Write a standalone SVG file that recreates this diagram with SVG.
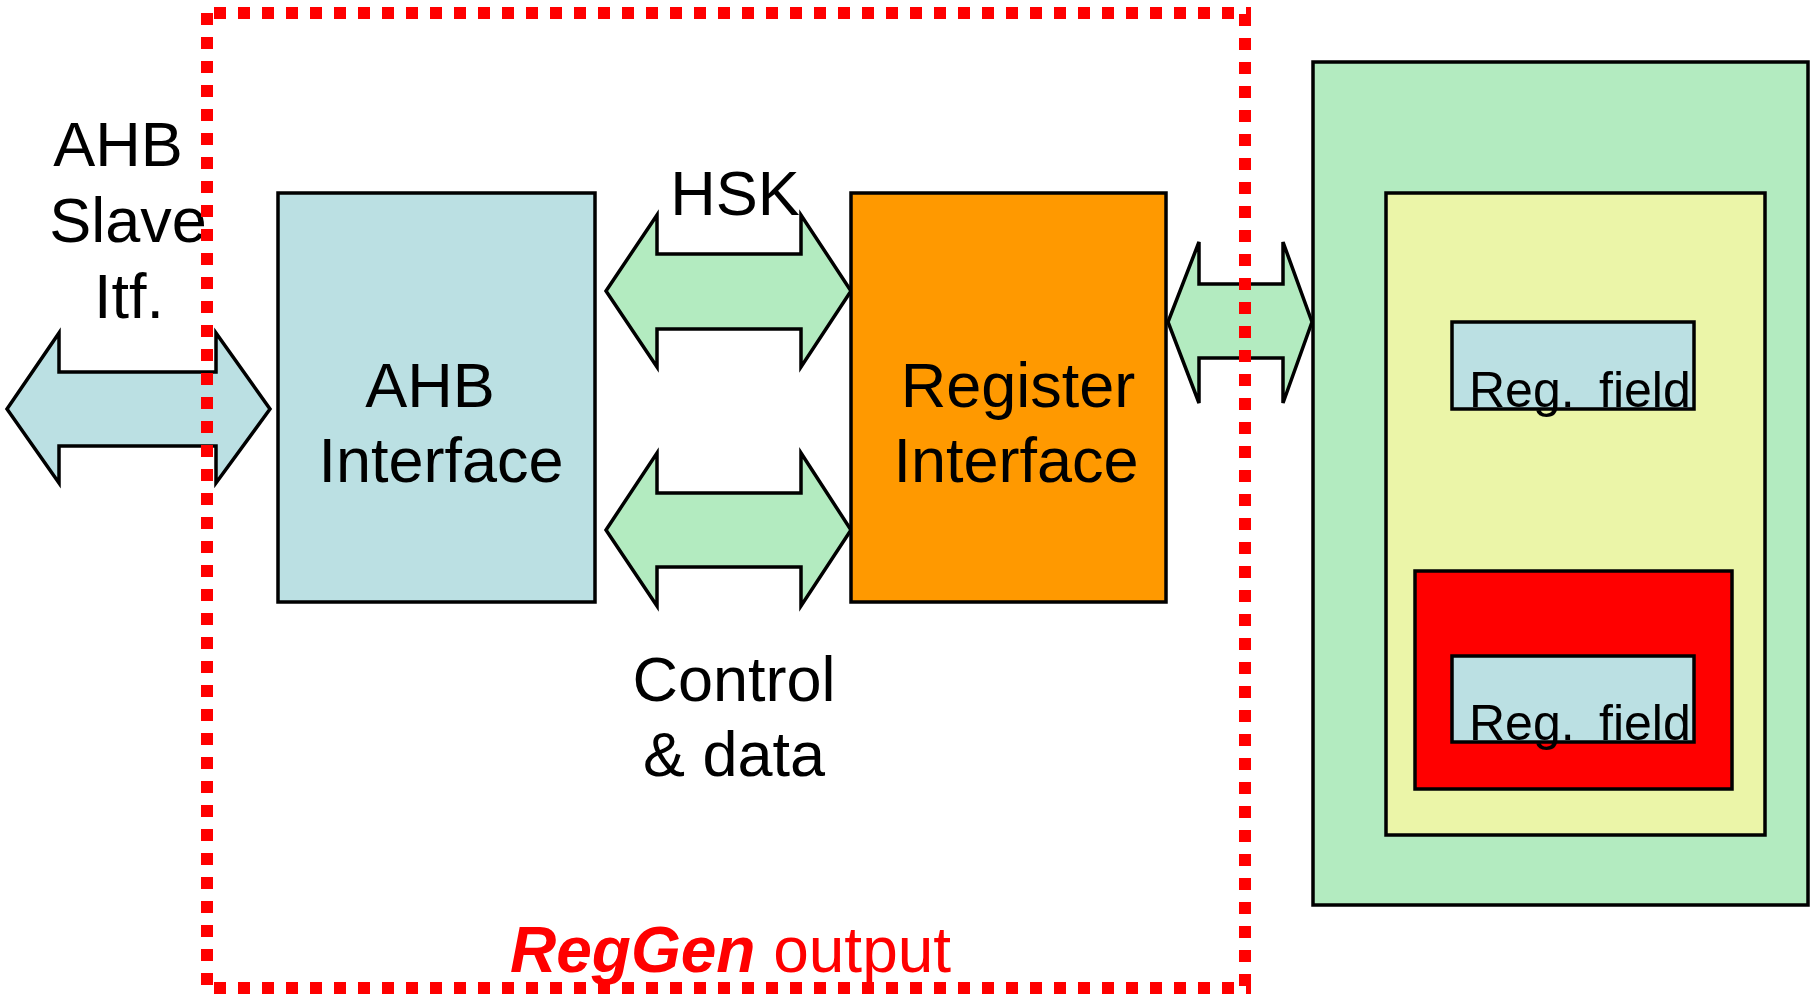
<svg xmlns="http://www.w3.org/2000/svg" width="1811" height="999" viewBox="0 0 1811 999">
<style>
.t{font-family:"Liberation Sans",Arial,sans-serif;font-size:63px;fill:#000;text-anchor:middle}
.f{font-family:"Liberation Sans",Arial,sans-serif;font-size:50px;fill:#000}
.box{stroke:#000;stroke-width:3.5}
.arr{stroke:#000;stroke-width:3.5;stroke-linejoin:miter}
.dash{stroke:#FF0000;stroke-width:12;stroke-dasharray:12 12;fill:none}
</style>
<rect width="1811" height="999" fill="#fff"/>
<g id="connectors">
  <path class="arr" fill="#BBE0E3" d="M7,409 L59,333 L59,372 L216,372 L216,333 L270,409 L216,483 L216,446 L59,446 L59,483 Z"/>
  <path class="arr" fill="#B3EBC0" d="M606,291 L657,215 L657,254 L801,254 L801,215 L851,291 L801,367 L801,329 L657,329 L657,367 Z"/>
  <path class="arr" fill="#B3EBC0" d="M606,530 L657,453 L657,493 L801,493 L801,453 L851,530 L801,606 L801,567 L657,567 L657,606 Z"/>
  <path class="arr" fill="#B3EBC0" d="M1168,322 L1199,242 L1199,284 L1283,284 L1283,242 L1312,322 L1283,403 L1283,358 L1199,358 L1199,403 Z"/>
</g>
<g id="ahb-slave-label">
  <text class="t" x="118" y="166">AHB</text>
  <text class="t" x="128" y="242">Slave</text>
  <text class="t" x="129" y="318">Itf.</text>
</g>
<g id="ahb-interface">
  <rect class="box" x="278" y="193" width="317" height="409" fill="#BBE0E3"/>
  <text class="t" x="430" y="407">AHB</text>
  <text class="t" x="441" y="482">Interface</text>
</g>
<g id="register-interface">
  <rect class="box" x="851" y="193" width="315" height="409" fill="#FF9900"/>
  <text class="t" x="1018" y="407">Register</text>
  <text class="t" x="1016" y="482">Interface</text>
</g>
<g id="hsk-label">
  <text class="t" x="735" y="215">HSK</text>
</g>
<g id="control-label">
  <text class="t" x="734" y="701">Control</text>
  <text class="t" x="734" y="776">&amp; data</text>
</g>
<g id="register-block">
  <rect class="box" x="1313" y="62" width="495" height="843" fill="#B3EBC0"/>
  <rect class="box" x="1386" y="193" width="379" height="642" fill="#EBF5A8"/>
  <g id="reg-field-1">
    <rect class="box" x="1452" y="322" width="242" height="87" fill="#BBE0E3"/>
    <text class="f" x="1469" y="407">Reg. <tspan x="1599">field</tspan></text>
  </g>
  <g id="red-register">
    <rect class="box" x="1415" y="571" width="317" height="218" fill="#FF0000"/>
  </g>
  <g id="reg-field-2">
    <rect class="box" x="1452" y="656" width="242" height="86" fill="#BBE0E3"/>
    <text class="f" x="1469" y="740">Reg. <tspan x="1599">field</tspan></text>
  </g>
</g>
<g id="reggen-output">
  <line class="dash" x1="207" y1="13" x2="207" y2="994"/>
  <line class="dash" x1="214" y1="13" x2="1251" y2="13"/>
  <line class="dash" x1="1245" y1="14" x2="1245" y2="994"/>
  <line class="dash" x1="214" y1="988" x2="1251" y2="988"/>
  <text x="510" y="972" style="font-family:'Liberation Sans',Arial,sans-serif;font-size:64px;fill:#FF0000"><tspan font-weight="bold" font-style="italic">RegGen</tspan> output</text>
</g>
</svg>
